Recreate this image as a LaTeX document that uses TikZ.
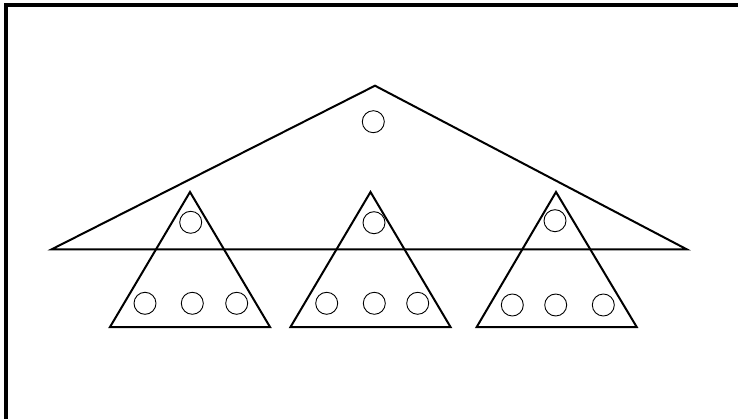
\documentclass[tikz,border=0pt]{standalone}
\begin{document}
\begin{tikzpicture}[x=1pt,y=-1pt,
  tri/.style={draw=black,line width=2pt,line join=miter},
  ball/.style={circle,draw=black,line width=0.9pt,minimum size=22pt,inner sep=0pt},
  frameline/.style={draw=black,line width=4pt,line join=miter}]
\useasboundingbox (0,0) rectangle (738,419);
\draw[frameline] (740,5.3) -- (6,5.3) -- (6,421);
% big triangle
\coordinate (bA) at (375,85.7);
\coordinate (bL) at (51.7,249.3);
\coordinate (bR) at (686.7,249.3);
\draw[tri] (bL) -- (bA) -- (bR) -- cycle;
\node[ball] (b0) at (373.3,121.7) {};
% small triangles
\coordinate (t1A) at (190,192);
\coordinate (t1L) at (110,327);
\coordinate (t1R) at (270,327);
\draw[tri] (t1L) -- (t1A) -- (t1R) -- cycle;
\node[ball] (c10) at (190.7,222.3) {};
\node[ball] (c11) at (145,303.3) {};
\node[ball] (c12) at (192.3,303.3) {};
\node[ball] (c13) at (236.7,303.3) {};
\coordinate (t2A) at (370.5,192);
\coordinate (t2L) at (290.5,327);
\coordinate (t2R) at (450.5,327);
\draw[tri] (t2L) -- (t2A) -- (t2R) -- cycle;
\node[ball] (c20) at (374,222.7) {};
\node[ball] (c21) at (326.7,303.3) {};
\node[ball] (c22) at (374.3,303.3) {};
\node[ball] (c23) at (417.7,303.3) {};
\coordinate (t3A) at (556,192);
\coordinate (t3L) at (476.7,327);
\coordinate (t3R) at (636.7,327);
\draw[tri] (t3L) -- (t3A) -- (t3R) -- cycle;
\node[ball] (c30) at (555,220.7) {};
\node[ball] (c31) at (512.3,305) {};
\node[ball] (c32) at (555.7,305) {};
\node[ball] (c33) at (603.3,305) {};
\end{tikzpicture}
\end{document}
